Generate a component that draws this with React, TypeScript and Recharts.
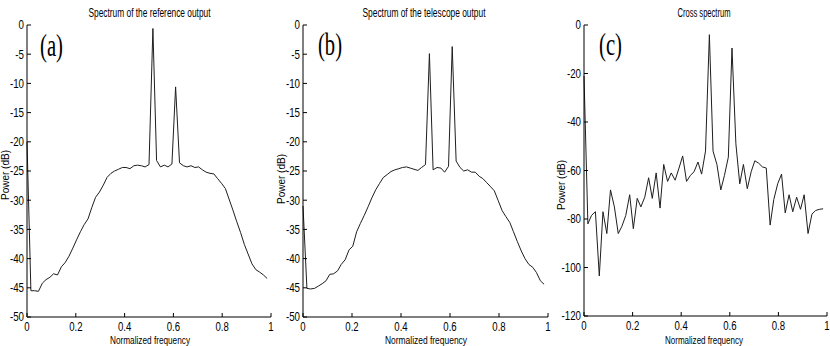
import { Line, LineChart, XAxis, YAxis } from 'recharts'

// normalized frequency bins (k/64)
const FREQ = [
  0, 0.016, 0.031, 0.047, 0.063, 0.078, 0.094, 0.109, 0.125, 0.141, 0.156, 0.172, 0.188, 0.203, 0.219, 0.234,
  0.25, 0.266, 0.281, 0.297, 0.313, 0.328, 0.344, 0.359, 0.375, 0.391, 0.406, 0.422, 0.438, 0.453, 0.469, 0.484,
  0.5, 0.516, 0.531, 0.547, 0.563, 0.578, 0.594, 0.609, 0.625, 0.641, 0.656, 0.672, 0.688, 0.703, 0.719, 0.734,
  0.75, 0.766, 0.781, 0.797, 0.813, 0.828, 0.844, 0.859, 0.875, 0.891, 0.906, 0.922, 0.938, 0.953, 0.969, 0.984,
]

const REF_DB = [
  -20, -45.5, -45.5, -45.6, -44.2, -43.6, -43.2, -42.6, -42.8, -41.4, -40.7, -39.6, -38.2, -36.8, -35.4, -34.2,
  -33.2, -31.2, -29.5, -28.6, -27.4, -26.1, -25.4, -25.0, -24.7, -24.4, -24.4, -24.6, -24.1, -24.0, -24.1, -24.3,
  -23.9, -0.6, -23.2, -24.3, -24.0, -24.3, -23.8, -10.6, -23.6, -24.1, -24.3, -24.1, -24.4, -24.3, -24.8, -25.2,
  -25.4, -25.5, -26.3, -27.1, -28.0, -29.8, -31.7, -33.6, -35.5, -37.6, -39.2, -40.9, -41.9, -42.3, -42.8, -43.4,
]

const TEL_DB = [
  -31, -45.1, -45.2, -45.1, -44.7, -44.3, -43.8, -42.7, -42.6, -42.1, -41.0, -40.2, -38.5, -37.9, -35.4, -34.0,
  -32.6, -31.1, -29.6, -28.2, -27.1, -26.1, -25.6, -25.1, -24.8, -24.6, -24.4, -24.3, -24.5, -24.7, -24.9, -24.4,
  -23.9, -4.9, -24.8, -24.4, -24.5, -25.2, -24.2, -3.7, -23.3, -24.4, -25.0, -24.8, -25.2, -25.2, -25.9, -26.3,
  -27.0, -27.7, -28.4, -30.1, -31.8, -32.8, -33.8, -35.4, -37.1, -38.7, -40.0, -41.0, -41.5, -42.4, -43.8, -44.4,
]

const CROSS_DB = [
  -21, -82, -78.5, -77, -103.5, -77, -86, -68, -75, -86, -83, -78.5, -70, -84, -71.5, -75,
  -71, -63, -71.5, -61, -75.5, -57.5, -64.5, -61, -64, -59, -54, -64.5, -62, -60.5, -56.5, -61.5,
  -52, -4, -52, -57.5, -68, -62, -54.5, -9.5, -49, -65.5, -57.5, -67.5, -60.5, -56, -57, -58.5,
  -59, -82.5, -72, -65.5, -61.5, -77.5, -70, -77, -71, -76, -70, -86, -78, -76.5, -76, -75.8,
]

const X_TICKS = [0, 0.2, 0.4, 0.6, 0.8, 1]
const POWER_TICKS = [0, -5, -10, -15, -20, -25, -30, -35, -40, -45, -50]
const CROSS_TICKS = [0, -20, -40, -60, -80, -100, -120]

const SANS = "'Liberation Sans', Arial, sans-serif"

// condensed tick text, like the old plotting font
function XTick({ x, y, payload }: any) {
  return (
    <text transform={`translate(${x},${y}) scale(0.8,1)`} textAnchor="middle" dy="0.71em"
      fontSize={12} fontFamily={SANS} fill="#000">
      {payload.value}
    </text>
  )
}

function YTick({ x, y, payload }: any) {
  return (
    <text transform={`translate(${x},${y}) scale(0.78,1)`} textAnchor="end" dy="0.355em"
      fontSize={12.5} fontFamily={SANS} fill="#000">
      {payload.value}
    </text>
  )
}

type PanelProps = {
  left: number
  width: number
  axisWidth: number
  marginRight: number
  bottom: number
  values: number[]
  domain: [number, number]
  ticks: number[]
}

function Panel({ left, width, axisWidth, marginRight, bottom, values, domain, ticks }: PanelProps) {
  const data = FREQ.map((f, i) => ({ f, db: values[i] }))
  return (
    <div style={{ position: 'absolute', left, top: 0 }}>
      <LineChart width={width} height={346} data={data} margin={{ top: 25, right: marginRight, bottom: 0, left: 0 }}>
        <XAxis xAxisId="b" dataKey="f" type="number" domain={[0, 1]} ticks={X_TICKS} interval={0}
          height={bottom} tickSize={-4} tickMargin={9} stroke="#000" tick={<XTick />} />
        <XAxis xAxisId="t" orientation="top" dataKey="f" type="number" domain={[0, 1]} ticks={X_TICKS}
          interval={0} height={0} tickSize={-4} stroke="#000" tick={() => <g />} />
        <YAxis yAxisId="l" type="number" domain={domain} ticks={ticks} interval={0} width={axisWidth}
          tickSize={-4} tickMargin={7} stroke="#000" tick={<YTick />} />
        <YAxis yAxisId="r" orientation="right" type="number" domain={domain} ticks={ticks} interval={0}
          width={0} tickSize={-4} stroke="#000" tick={() => <g />} />
        <Line xAxisId="b" yAxisId="l" type="linear" dataKey="db" stroke="#1e1e1e" strokeWidth={1}
          dot={false} isAnimationActive={false} />
      </LineChart>
    </div>
  )
}

export default function App() {
  return (
    <div style={{ position: 'absolute', left: 0, top: 0, width: 830, height: 346, background: '#fff' }}>
      <Panel left={0} width={277} axisWidth={27} marginRight={6} bottom={29} values={REF_DB}
        domain={[-50, 0]} ticks={POWER_TICKS} />
      <Panel left={276} width={277} axisWidth={27} marginRight={5} bottom={29} values={TEL_DB}
        domain={[-50, 0]} ticks={POWER_TICKS} />
      <Panel left={550} width={280} axisWidth={34} marginRight={3} bottom={30} values={CROSS_DB}
        domain={[-120, 0]} ticks={CROSS_TICKS} />
      <svg width={830} height={346} style={{ position: 'absolute', left: 0, top: 0, pointerEvents: 'none' }}>
        <g fontFamily={SANS} fontSize={12} fill="#000" textAnchor="middle">
          <text x={149.5} y={16.5} textLength={122} lengthAdjust="spacingAndGlyphs">Spectrum of the reference output</text>
          <text x={424} y={16.5} textLength={123} lengthAdjust="spacingAndGlyphs">Spectrum of the telescope output</text>
          <text x={704} y={16.5} textLength={53} lengthAdjust="spacingAndGlyphs">Cross spectrum</text>
          <text x={150} y={343.5} fontSize={11.5} textLength={80} lengthAdjust="spacingAndGlyphs">Normalized frequency</text>
          <text x={426} y={343.5} fontSize={11.5} textLength={82} lengthAdjust="spacingAndGlyphs">Normalized frequency</text>
          <text x={704} y={343.5} fontSize={11.5} textLength={78} lengthAdjust="spacingAndGlyphs">Normalized frequency</text>
        </g>
        <g fontFamily={SANS} fontSize={10} fill="#000" textAnchor="middle">
          <text transform="translate(8.5,175) rotate(-90)">Power (dB)</text>
          <text transform="translate(284.5,179) rotate(-90)">Power (dB)</text>
          <text transform="translate(565,185) rotate(-90)">Power (dB)</text>
        </g>
        <g fontFamily="'Liberation Serif', 'Times New Roman', serif" fontSize={32} fill="#000">
          <text x={40} y={56} textLength={23} lengthAdjust="spacingAndGlyphs">(a)</text>
          <text x={318} y={55} textLength={24} lengthAdjust="spacingAndGlyphs">(b)</text>
          <text x={599} y={55} textLength={23} lengthAdjust="spacingAndGlyphs">(c)</text>
        </g>
      </svg>
    </div>
  )
}
